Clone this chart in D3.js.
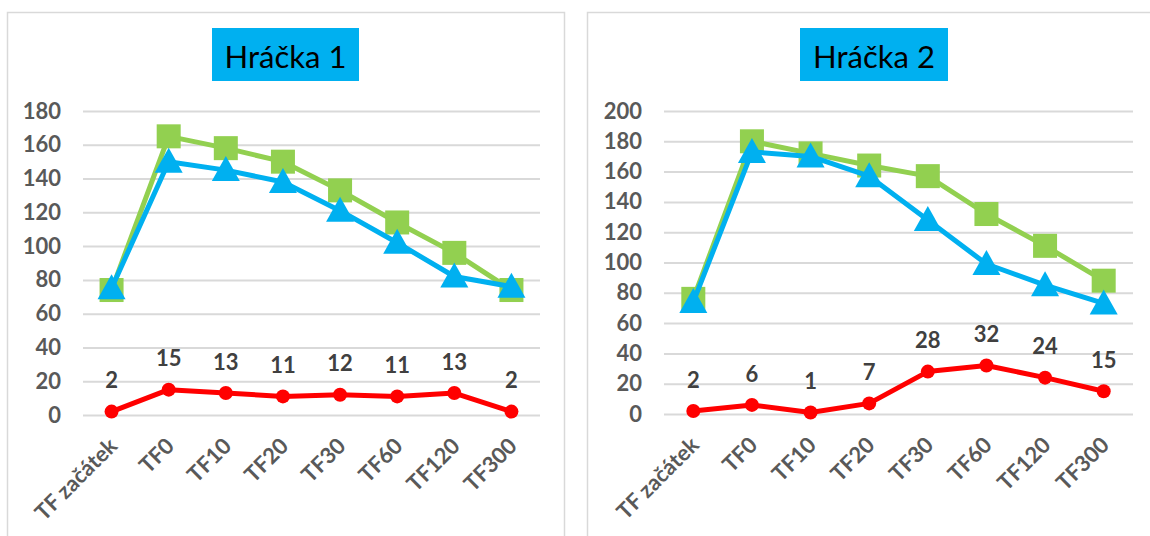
<!DOCTYPE html>
<html>
<head>
<meta charset="utf-8">
<script src="https://cdn.jsdelivr.net/npm/d3@7"></script>
<style>
  html, body { margin: 0; padding: 0; background: #ffffff; }
  svg { display: block; }
  text { font-family: Lato, "Open Sans", sans-serif; }
</style>
</head>
<body>
<svg id="chart" width="1150" height="536"></svg>
<script>
// Measurement time points
const categories = ["TF začátek", "TF0", "TF10", "TF20", "TF30", "TF60", "TF120", "TF300"];

// Hráčka 1
const toy1Green = [74, 165, 158, 150, 133, 114, 96, 74];
const toy1Blue  = [75, 150, 145, 138, 121, 102, 82, 76];
const toy1Red   = [2, 15, 13, 11, 12, 11, 13, 2];
const toy1Ticks = [0, 20, 40, 60, 80, 100, 120, 140, 160, 180];

// Hráčka 2
const toy2Green = [76, 180, 172, 164, 157, 132, 111, 88];
const toy2Blue  = [74, 173, 170, 157, 128, 99, 85, 73];
const toy2Red   = [2, 6, 1, 7, 28, 32, 24, 15];
const toy2Ticks = [0, 20, 40, 60, 80, 100, 120, 140, 160, 180, 200];

const titles = ["Hráčka 1", "Hráčka 2"];

const COLORS = { green: "#92D050", blue: "#00B0F0", red: "#FF0000" };
const LABEL_SIZE = 22;

const svg = d3.select("#chart");

const panels = [
  {
    title: titles[0], green: toy1Green, blue: toy1Blue, red: toy1Red, ticks: toy1Ticks,
    frame: { x: 7, y: 12, w: 557, h: 540 },
    titleBox: { x: 212, y: 28, w: 147, h: 53 },
    plot: { left: 83, right: 540, top: 111, bottom: 415 }
  },
  {
    title: titles[1], green: toy2Green, blue: toy2Blue, red: toy2Red, ticks: toy2Ticks,
    frame: { x: 587, y: 12, w: 574, h: 540 },
    titleBox: { x: 800, y: 28, w: 148, h: 53 },
    plot: { left: 664, right: 1133, top: 111, bottom: 414 }
  }
];

panels.forEach(p => {
  const g = svg.append("g");

  // chart frame
  g.append("rect")
    .attr("x", p.frame.x + 0.5).attr("y", p.frame.y + 0.5)
    .attr("width", p.frame.w).attr("height", p.frame.h)
    .attr("fill", "#ffffff")
    .attr("stroke", "#d9d9d9").attr("stroke-width", 1.5);

  // title with filled background
  g.append("rect")
    .attr("x", p.titleBox.x).attr("y", p.titleBox.y)
    .attr("width", p.titleBox.w).attr("height", p.titleBox.h)
    .attr("fill", COLORS.blue);
  g.append("text")
    .attr("x", p.titleBox.x + p.titleBox.w / 2)
    .attr("y", 68)
    .attr("text-anchor", "middle")
    .attr("font-size", 31)
    .attr("fill", "#000000")
    .text(p.title);

  const x = d3.scalePoint()
    .domain(categories)
    .range([p.plot.left, p.plot.right])
    .padding(0.5);

  const yMax = p.ticks[p.ticks.length - 1];
  const y = d3.scaleLinear()
    .domain([0, yMax])
    .range([p.plot.bottom, p.plot.top]);

  // horizontal gridlines + value labels
  const yAxis = d3.axisLeft(y)
    .tickValues(p.ticks)
    .tickSize(-(p.plot.right - p.plot.left))
    .tickPadding(22);
  const ya = g.append("g")
    .attr("transform", `translate(${p.plot.left},0)`)
    .call(yAxis);
  ya.select(".domain").remove();
  ya.selectAll(".tick line").attr("stroke", "#d9d9d9").attr("stroke-width", 2);
  ya.selectAll(".tick text")
    .attr("font-family", "Lato, sans-serif")
    .attr("font-size", LABEL_SIZE)
    .attr("font-weight", "bold")
    .attr("fill", "#595959");

  // category labels, rotated
  const xAxis = d3.axisBottom(x).tickSize(0).tickPadding(0);
  const xa = g.append("g")
    .attr("transform", `translate(0,${p.plot.bottom})`)
    .call(xAxis);
  xa.select(".domain").remove();
  xa.selectAll(".tick text")
    .attr("font-family", "Lato, sans-serif")
    .attr("font-size", LABEL_SIZE)
    .attr("font-weight", "bold")
    .attr("fill", "#595959")
    .attr("text-anchor", "end")
    .attr("y", 0).attr("dy", "0.35em")
    .attr("transform", "translate(1,27) rotate(-45)");

  const line = d3.line()
    .x((d, i) => x(categories[i]))
    .y(d => y(d));

  // green series: squares
  g.append("path").datum(p.green)
    .attr("d", line).attr("fill", "none")
    .attr("stroke", COLORS.green).attr("stroke-width", 5)
    .attr("stroke-linejoin", "round");
  g.selectAll(null).data(p.green).enter().append("rect")
    .attr("x", (d, i) => x(categories[i]) - 12)
    .attr("y", d => y(d) - 12)
    .attr("width", 24).attr("height", 24)
    .attr("fill", COLORS.green);

  // blue series: triangles
  g.append("path").datum(p.blue)
    .attr("d", line).attr("fill", "none")
    .attr("stroke", COLORS.blue).attr("stroke-width", 5)
    .attr("stroke-linejoin", "round");
  g.selectAll(null).data(p.blue).enter().append("path")
    .attr("d", (d, i) => {
      const cx = x(categories[i]), cy = y(d);
      return `M${cx},${cy - 14}L${cx + 14},${cy + 11}L${cx - 14},${cy + 11}Z`;
    })
    .attr("fill", COLORS.blue);

  // red series: circles with value labels
  g.append("path").datum(p.red)
    .attr("d", line).attr("fill", "none")
    .attr("stroke", COLORS.red).attr("stroke-width", 5)
    .attr("stroke-linejoin", "round");
  g.selectAll(null).data(p.red).enter().append("circle")
    .attr("cx", (d, i) => x(categories[i]))
    .attr("cy", d => y(d))
    .attr("r", 7)
    .attr("fill", COLORS.red);
  g.selectAll(null).data(p.red).enter().append("text")
    .attr("x", (d, i) => x(categories[i]))
    .attr("y", d => y(d) - 31)
    .attr("dy", "0.35em")
    .attr("text-anchor", "middle")
    .attr("font-size", LABEL_SIZE)
    .attr("font-weight", "bold")
    .attr("fill", "#404040")
    .text(d => d);
});
</script>
</body>
</html>
